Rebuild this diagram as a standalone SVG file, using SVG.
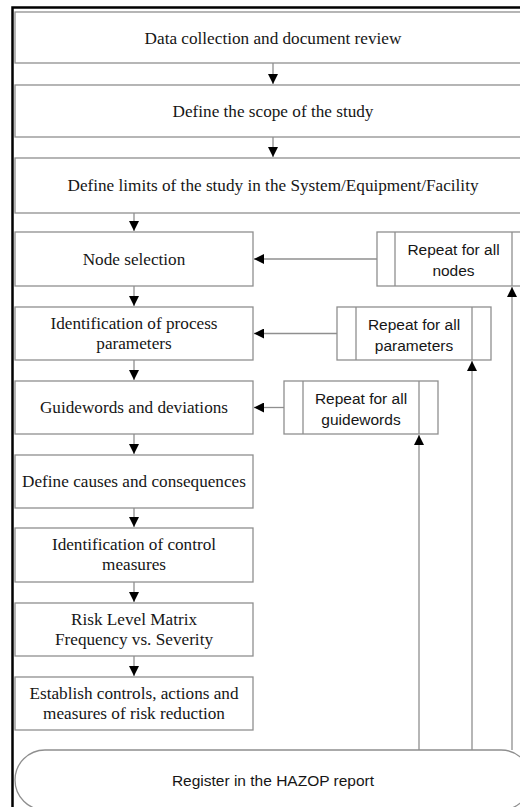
<svg xmlns="http://www.w3.org/2000/svg" width="520" height="807" viewBox="0 0 520 807">
  <defs>
    <marker id="arrow" viewBox="0 0 10 10" refX="10" refY="5" markerWidth="10" markerHeight="10" markerUnits="userSpaceOnUse" orient="auto">
      <path d="M0,0 L10,5 L0,10 z" fill="#000"/>
    </marker>
    <style>
      .box { fill: #fff; stroke: #8f8f8f; stroke-width: 1.3; }
      .sub { fill: none; stroke: #8f8f8f; stroke-width: 1.3; }
      .conn { fill: none; stroke: #8f8f8f; stroke-width: 1.3; marker-end: url(#arrow); }
      .serif { font-family: "Liberation Serif", "Times New Roman", serif; font-size: 17.2px; fill: #161616; text-anchor: middle; }
      .sans { font-family: "Liberation Sans", Arial, sans-serif; font-size: 15.5px; fill: #161616; text-anchor: middle; }
    </style>
  </defs>

  <rect width="520" height="807" fill="#fff"/>
  <!-- outer frame -->
  <rect x="12.5" y="7.5" width="540" height="820" fill="none" stroke="#000" stroke-width="2.5"/>

  <!-- connectors -->
  <g id="connectors">
    <line class="conn" x1="273" y1="63" x2="273" y2="84"/>
    <line class="conn" x1="273" y1="137" x2="273" y2="157"/>
    <line class="conn" x1="134" y1="213" x2="134" y2="231"/>
    <line class="conn" x1="134" y1="286" x2="134" y2="306"/>
    <line class="conn" x1="134" y1="360" x2="134" y2="380"/>
    <line class="conn" x1="134" y1="434" x2="134" y2="454"/>
    <line class="conn" x1="134" y1="508" x2="134" y2="527"/>
    <line class="conn" x1="134" y1="582" x2="134" y2="602"/>
    <line class="conn" x1="134" y1="656" x2="134" y2="676"/>
    <!-- loop-back arrows into the main column -->
    <line class="conn" x1="377" y1="259" x2="254" y2="259"/>
    <line class="conn" x1="337" y1="333.5" x2="254" y2="333.5"/>
    <line class="conn" x1="284" y1="407.5" x2="254" y2="407.5"/>
    <!-- returns from the report up to the repeat boxes -->
    <line class="conn" x1="512" y1="750" x2="512" y2="287"/>
    <line class="conn" x1="472" y1="750" x2="472" y2="361"/>
    <line class="conn" x1="419" y1="750" x2="419" y2="435"/>
  </g>

  <g id="data-collection">
    <rect class="box" x="15" y="12" width="516" height="51"/>
    <text class="serif" x="273" y="44">Data collection and document review</text>
  </g>
  <g id="define-scope">
    <rect class="box" x="15" y="85" width="516" height="52"/>
    <text class="serif" x="273" y="117">Define the scope of the study</text>
  </g>
  <g id="define-limits">
    <rect class="box" x="15" y="158" width="516" height="55"/>
    <text class="serif" x="273" y="191">Define limits of the study in the System/Equipment/Facility</text>
  </g>
  <g id="node-selection">
    <rect class="box" x="15" y="232" width="238" height="54"/>
    <text class="serif" x="134" y="265">Node selection</text>
  </g>
  <g id="process-parameters">
    <rect class="box" x="15" y="307" width="238" height="53"/>
    <text class="serif" x="134" y="329">Identification of process</text>
    <text class="serif" x="134" y="349">parameters</text>
  </g>
  <g id="guidewords">
    <rect class="box" x="15" y="381" width="238" height="53"/>
    <text class="serif" x="134" y="413">Guidewords and deviations</text>
  </g>
  <g id="causes">
    <rect class="box" x="15" y="455" width="238" height="53"/>
    <text class="serif" x="134" y="487">Define causes and consequences</text>
  </g>
  <g id="control-measures">
    <rect class="box" x="15" y="528" width="238" height="54"/>
    <text class="serif" x="134" y="550">Identification of control</text>
    <text class="serif" x="134" y="570">measures</text>
  </g>
  <g id="risk-matrix">
    <rect class="box" x="15" y="603" width="238" height="53"/>
    <text class="serif" x="134" y="625">Risk Level Matrix</text>
    <text class="serif" x="134" y="645">Frequency vs. Severity</text>
  </g>
  <g id="risk-reduction">
    <rect class="box" x="15" y="677" width="238" height="53"/>
    <text class="serif" x="134" y="699">Establish controls, actions and</text>
    <text class="serif" x="134" y="719">measures of risk reduction</text>
  </g>

  <g id="repeat-nodes">
    <rect class="box" x="377" y="232" width="153" height="54"/>
    <line class="sub" x1="395" y1="232" x2="395" y2="286"/>
    <line class="sub" x1="512" y1="232" x2="512" y2="286"/>
    <text class="sans" x="453.5" y="255">Repeat for all</text>
    <text class="sans" x="453.5" y="276">nodes</text>
  </g>
  <g id="repeat-parameters">
    <rect class="box" x="337" y="307" width="154" height="53"/>
    <line class="sub" x1="356" y1="307" x2="356" y2="360"/>
    <line class="sub" x1="472" y1="307" x2="472" y2="360"/>
    <text class="sans" x="414" y="330">Repeat for all</text>
    <text class="sans" x="414" y="351">parameters</text>
  </g>
  <g id="repeat-guidewords">
    <rect class="box" x="284" y="381" width="154" height="53"/>
    <line class="sub" x1="303" y1="381" x2="303" y2="434"/>
    <line class="sub" x1="419" y1="381" x2="419" y2="434"/>
    <text class="sans" x="361" y="404">Repeat for all</text>
    <text class="sans" x="361" y="425">guidewords</text>
  </g>

  <g id="hazop-report">
    <rect class="box" x="15" y="750" width="516" height="60" rx="30" ry="30"/>
    <text class="sans" x="273" y="786">Register in the HAZOP report</text>
  </g>
</svg>
